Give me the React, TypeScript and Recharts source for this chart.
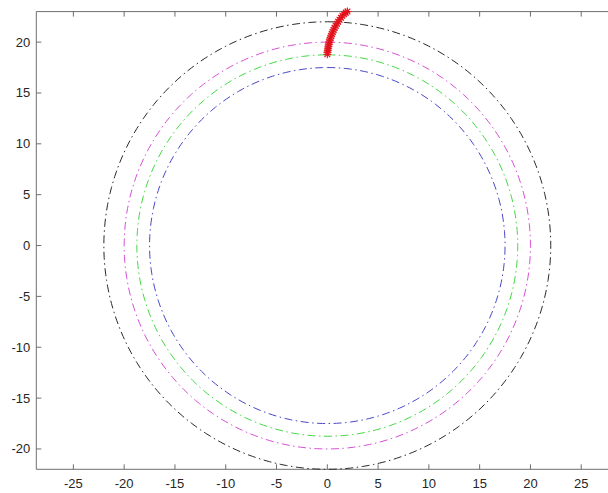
import React from 'react';
import { ScatterChart, Scatter, XAxis, YAxis } from 'recharts';

// Radii of the four dash-dot circles
const circleRadii = [22, 20, 18.75, 17.5];
const circleColors = ['#2a2a2a', '#d64fd6', '#44d844', '#4848c8'];

// Red trajectory points
const trajX = [0.0, 0.02, 0.05, 0.08, 0.11, 0.15, 0.2, 0.25, 0.31, 0.38, 0.45, 0.53, 0.62, 0.72, 0.83, 0.95, 1.07, 1.2, 1.34, 1.49, 1.65, 1.82, 1.98];
const trajY = [18.8, 19.0, 19.2, 19.4, 19.6, 19.8, 20.0, 20.2, 20.4, 20.6, 20.8, 21.0, 21.2, 21.4, 21.6, 21.8, 22.0, 22.2, 22.4, 22.6, 22.75, 22.9, 23.0];

const xTicks = [-25, -20, -15, -10, -5, 0, 5, 10, 15, 20, 25];
const yTicks = [-20, -15, -10, -5, 0, 5, 10, 15, 20];
const xDomain: [number, number] = [-28.65, 28.65];
const yDomain: [number, number] = [-22, 23];

const ANGLE_STEPS = 240;
const circles = circleRadii.map((r) =>
  Array.from({ length: ANGLE_STEPS + 1 }, (_, i) => {
    const a = (i / ANGLE_STEPS) * 2 * Math.PI;
    return { x: r * Math.sin(a), y: r * Math.cos(a) };
  })
);
const traj = trajX.map((x, i) => ({ x, y: trajY[i] }));

const AXIS = '#6e6e6e';
const TXT = '#262626';
const FONT = '"Liberation Sans", Arial, sans-serif';

const BottomTick = (p: any) => (
  <g>
    <line x1={p.x} x2={p.x} y1={p.y} y2={p.y - 5} stroke={AXIS} />
    <text x={p.x} y={p.y + 19} textAnchor="middle" fontSize={13} fill={TXT} fontFamily={FONT}>
      {p.payload.value}
    </text>
  </g>
);
const TopTick = (p: any) => (
  <line x1={p.x} x2={p.x} y1={p.y} y2={p.y + 5} stroke={AXIS} />
);
const LeftTick = (p: any) => (
  <g>
    <line x1={p.x} x2={p.x + 5} y1={p.y} y2={p.y} stroke={AXIS} />
    <text x={p.x - 6} y={p.y + 4.5} textAnchor="end" fontSize={13} fill={TXT} fontFamily={FONT}>
      {p.payload.value}
    </text>
  </g>
);
const RightTick = (p: any) => (
  <line x1={p.x} x2={p.x - 5} y1={p.y} y2={p.y} stroke={AXIS} />
);

const Asterisk = (p: any) => {
  const { cx, cy } = p;
  const r = 4;
  const d = r * 0.72;
  return (
    <g stroke="#e3121c" strokeWidth={1.1}>
      <line x1={cx - r} x2={cx + r} y1={cy} y2={cy} />
      <line x1={cx} x2={cx} y1={cy - r} y2={cy + r} />
      <line x1={cx - d} x2={cx + d} y1={cy - d} y2={cy + d} />
      <line x1={cx - d} x2={cx + d} y1={cy + d} y2={cy - d} />
    </g>
  );
};

const NoShape = () => <g />;

export default function App() {
  return (
    <div style={{ position: 'absolute', left: 0, top: 0, width: 608, height: 493, overflow: 'hidden', background: '#fff' }}>
      <ScatterChart width={640} height={493} margin={{ top: 10.6, right: 20.7, bottom: 0, left: 0 }}>
        <XAxis
          xAxisId={0}
          dataKey="x"
          type="number"
          domain={xDomain}
          ticks={xTicks}
          height={23.7}
          tickSize={0}
          tickMargin={0}
          tickLine={false}
          tick={<BottomTick />}
          axisLine={{ stroke: AXIS }}
          interval={0}
        />
        <XAxis
          xAxisId="top"
          orientation="top"
          dataKey="x"
          type="number"
          domain={xDomain}
          ticks={xTicks}
          height={1}
          tickSize={0}
          tickMargin={0}
          tickLine={false}
          tick={<TopTick />}
          axisLine={{ stroke: AXIS }}
          interval={0}
        />
        <YAxis
          yAxisId={0}
          dataKey="y"
          type="number"
          domain={yDomain}
          ticks={yTicks}
          width={36.3}
          tickSize={0}
          tickMargin={0}
          tickLine={false}
          tick={<LeftTick />}
          axisLine={{ stroke: AXIS }}
          interval={0}
        />
        <YAxis
          yAxisId="right"
          orientation="right"
          dataKey="y"
          type="number"
          domain={yDomain}
          ticks={yTicks}
          width={1}
          tickSize={0}
          tickMargin={0}
          tickLine={false}
          tick={<RightTick />}
          axisLine={{ stroke: AXIS }}
          interval={0}
        />
        {circles.map((pts, i) => (
          <Scatter
            key={i}
            data={pts}
            xAxisId={0}
            yAxisId={0}
            shape={<NoShape />}
            line={{ stroke: circleColors[i], strokeWidth: 1, strokeDasharray: '8 3.5 1.5 3.5' }}
            lineType="joint"
            isAnimationActive={false}
          />
        ))}
        <Scatter data={traj} xAxisId="top" yAxisId="right" shape={<NoShape />} isAnimationActive={false} />
        <Scatter data={traj} xAxisId={0} yAxisId={0} shape={<Asterisk />} isAnimationActive={false} />
      </ScatterChart>
    </div>
  );
}
